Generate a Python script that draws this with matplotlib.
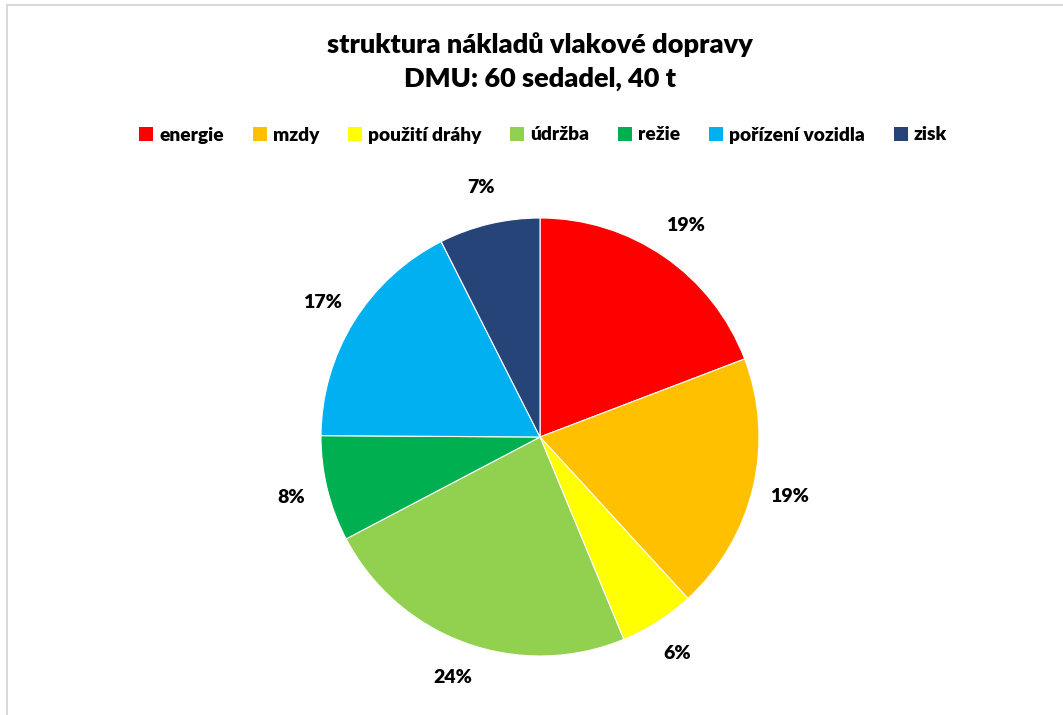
import matplotlib.pyplot as plt
from matplotlib.lines import Line2D
from matplotlib.patches import Patch

categories = ["energie", "mzdy", "použití dráhy", "údržba", "režie", "pořízení vozidla", "zisk"]
shares = [19.2, 19.0, 5.55, 23.55, 7.8, 17.45, 7.45]
colors = ["#FF0000", "#FFC000", "#FFFF00", "#92D050", "#00B050", "#00B0F0", "#264478"]
title_lines = ["struktura nákladů vlakové dopravy", "DMU: 60 sedadel, 40 t"]

plt.rcParams["font.family"] = ["Lato", "DejaVu Sans"]
plt.rcParams["font.weight"] = "bold"

W, H = 1063, 715
fig = plt.figure(figsize=(W / 100, H / 100), dpi=100)

# chart frame (top and left edges)
fig.add_artist(Line2D([6.5 / W, 6.5 / W], [0, 1 - 4.5 / H], transform=fig.transFigure,
                      color="#D9D9D9", lw=1.5))
fig.add_artist(Line2D([6.5 / W, 1], [1 - 4.5 / H, 1 - 4.5 / H], transform=fig.transFigure,
                      color="#D9D9D9", lw=1.5))

# pie centred at (540, 437) px with radius ~219 px
cx, cy, r = 540, 437, 219
ax = fig.add_axes([(cx - r) / W, (H - cy - r) / H, 2 * r / W, 2 * r / H])
wedges, texts, autotexts = ax.pie(
    shares, colors=colors, startangle=90, counterclock=False,
    autopct="%.0f%%", pctdistance=1.17, radius=1.0,
    wedgeprops=dict(linewidth=0.8, edgecolor="white"),
    textprops=dict(fontsize=14, fontweight="heavy", color="#000000"),
)
ax.set_xlim(-1, 1)
ax.set_ylim(-1, 1)
ax.set_aspect("equal")
ax.axis("off")

fig.text(540 / W, 1 - 45 / H, title_lines[0], ha="center", va="center",
         fontsize=19.5, fontweight="heavy")
fig.text(540 / W, 1 - 78.5 / H, title_lines[1], ha="center", va="center",
         fontsize=19.5, fontweight="heavy")

handles = [Patch(facecolor=c, edgecolor="none") for c in colors]
fig.legend(handles, categories, loc="center", bbox_to_anchor=(543 / W, 1 - 135 / H),
           ncol=len(categories), frameon=False, prop=dict(size=13.8, weight="heavy"),
           handlelength=0.75, handleheight=0.75, handletextpad=0.3, columnspacing=1.5)

fig.savefig("out.png", dpi=100, facecolor="white")
